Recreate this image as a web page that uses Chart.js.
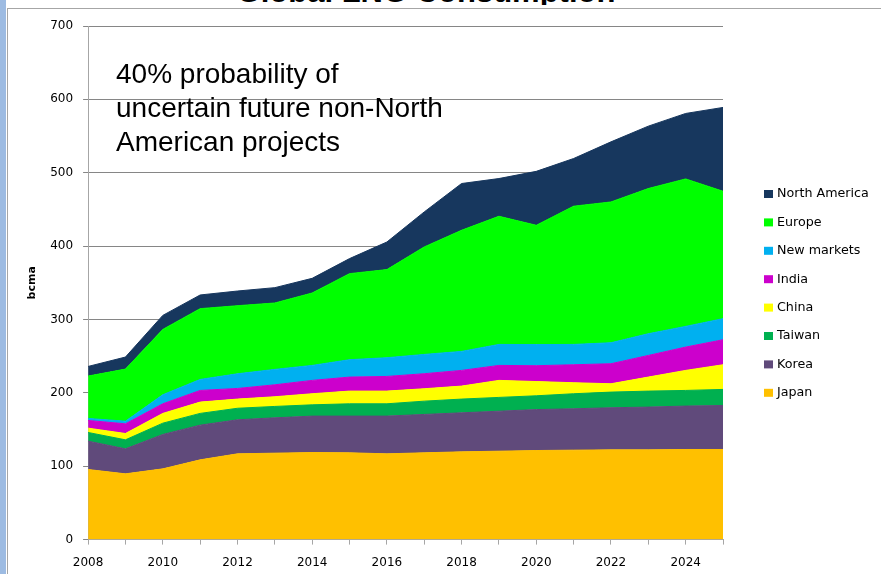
<!DOCTYPE html>
<html>
<head>
<meta charset="utf-8">
<script src="https://cdn.jsdelivr.net/npm/chart.js@4.4.1/dist/chart.umd.min.js"></script>
<style>
  html, body { margin: 0; padding: 0; background: #fff; }
  #wrap { position: relative; width: 881px; height: 574px; overflow: hidden; }
  .strip { position: absolute; left: 0; top: 0; width: 6px; height: 574px; background: #9dbbe2; }
  .frameTop { position: absolute; left: 7px; top: 8px; width: 874px; height: 1px; background: #a6a6a6; }
  .frameLeft { position: absolute; left: 7px; top: 8px; width: 1px; height: 566px; background: #a6a6a6; }
  .titleClip { position: absolute; left: 0; top: 0; width: 881px; height: 5px; overflow: hidden; }
  .title { position: absolute; left: 0; top: -24px; width: 852px; text-align: center;
           font: bold 31px "Liberation Sans", Arial, sans-serif; line-height: 31px; color: #000; }
  .note { position: absolute; left: 116px; top: 57px; font: 28px "Liberation Sans", Arial, sans-serif;
          line-height: 34px; color: #000; }
  canvas { position: absolute; left: 0; top: 0; }
</style>
</head>
<body>
<div id="wrap">
  <div class="strip"></div>
  <div class="frameTop"></div>
  <div class="frameLeft"></div>
  <div class="titleClip"><div class="title">Global LNG Consumption</div></div>
  <canvas id="lngChart" width="881" height="586"></canvas>
  <div class="note">40% probability of<br>uncertain future non-North<br>American projects</div>
</div>
<script>
// bcma per year (each series on its own, stacked bottom to top)
const years = ['2008', '2009', '2010', '2011', '2012', '2013', '2014', '2015', '2016',
               '2017', '2018', '2019', '2020', '2021', '2022', '2023', '2024', '2025'];
const japan = [95.5, 89.6, 96.4, 108.7, 116.9, 117.8, 118.7, 118.3, 116.9, 118.3, 119.6, 120.5, 121.4, 121.9, 122.3, 122.3, 122.8, 122.8];
const korea = [38.7, 34.1, 46.9, 47.3, 46.4, 48.2, 49.6, 50.0, 51.4, 52.3, 53.2, 54.5, 55.8, 56.4, 57.4, 58.3, 59.2, 60.0];
const taiwan = [11.8, 12.3, 15.4, 16.0, 15.7, 15.5, 15.4, 16.8, 16.8, 18.1, 18.7, 18.8, 18.8, 20.5, 21.3, 21.8, 21.3, 21.9];
const china = [5.9, 8.6, 13.3, 15.4, 12.5, 13.2, 15.1, 17.3, 17.3, 16.9, 17.7, 23.2, 19.4, 15.0, 11.4, 19.1, 27.3, 33.6];
const india = [10.5, 13.2, 13.1, 15.9, 14.5, 16.3, 18.2, 19.1, 20.0, 20.5, 21.4, 20.4, 21.6, 24.5, 27.3, 29.5, 31.8, 34.1];
const newMarkets = [2.7, 3.6, 12.3, 15.0, 20.0, 21.0, 20.4, 23.7, 25.5, 26.3, 25.9, 28.6, 28.8, 27.7, 28.6, 29.6, 28.2, 28.7];
const europe = [57.8, 71.0, 89.1, 96.5, 92.8, 90.5, 98.7, 117.3, 120.1, 146.5, 165.1, 174.7, 162.6, 188.4, 191.9, 197.9, 201.0, 173.7];
const northAmerica = [13.1, 16.4, 19.1, 18.6, 20.0, 20.9, 20.0, 20.5, 37.6, 47.7, 63.7, 51.4, 73.5, 65.0, 81.9, 85.0, 89.2, 114.2];
const yTicks = [0, 100, 200, 300, 400, 500, 600, 700];

const series = [
    ['Japan', japan, '#ffc000'],
    ['Korea', korea, '#604a7b'],
    ['Taiwan', taiwan, '#00b050'],
    ['China', china, '#ffff00'],
    ['India', india, '#cc00cc'],
    ['New markets', newMarkets, '#00b0f0'],
    ['Europe', europe, '#00ff00'],
    ['North America', northAmerica, '#17375e']
];

// legend drawn on the right, top item = top layer
const sideLegend = {
    id: 'sideLegend',
    afterDraw(chart) {
        const ctx = chart.ctx;
        const items = chart.data.datasets.slice().reverse();
        ctx.save();
        ctx.font = '12.7px "DejaVu Sans"';
        ctx.textBaseline = 'middle';
        items.forEach((ds, i) => {
            const y = 194 + i * 28.4;
            ctx.fillStyle = ds.backgroundColor;
            ctx.fillRect(764, y - 4, 9, 8);
            ctx.fillStyle = '#000';
            ctx.fillText(ds.label, 777, y);
        });
        ctx.restore();
    }
};

const ctx = document.getElementById('lngChart').getContext('2d');
new Chart(ctx, {
    type: 'line',
    data: {
        labels: years,
        datasets: series.map(([name, values, color], i) => ({
            label: name,
            data: values,
            backgroundColor: color,
            borderColor: color,
            borderWidth: 1,
            pointRadius: 0,
            tension: 0,
            fill: i === 0 ? 'origin' : '-1'
        }))
    },
    options: {
        responsive: false,
        animation: false,
        layout: { padding: { left: 22, top: 26, right: 158, bottom: 5 } },
        plugins: {
            legend: { display: false },
            tooltip: { enabled: false }
        },
        scales: {
            x: {
                offset: false,
                grid: { drawOnChartArea: false, color: '#a6a6a6', tickLength: 5 },
                border: { color: '#a6a6a6' },
                ticks: {
                    autoSkip: false,
                    maxRotation: 0,
                    padding: 11,
                    color: '#000',
                    font: { family: 'DejaVu Sans', size: 12 },
                    callback: (v, i) => (i % 2 === 0 ? years[i] : '')
                }
            },
            y: {
                stacked: true,
                min: 0,
                max: 700,
                afterBuildTicks: (axis) => { axis.ticks = yTicks.map(v => ({ value: v })); },
                grid: { color: '#868686', tickLength: 5 },
                border: { color: '#a6a6a6' },
                ticks: {
                    padding: 10,
                    color: '#000',
                    font: { family: 'DejaVu Sans', size: 12 }
                },
                title: {
                    display: true,
                    text: 'bcma',
                    color: '#000',
                    padding: { top: 4, bottom: 1 },
                    font: { family: 'DejaVu Sans', size: 11, weight: 'bold' }
                }
            }
        }
    },
    plugins: [sideLegend]
});
</script>
</body>
</html>
